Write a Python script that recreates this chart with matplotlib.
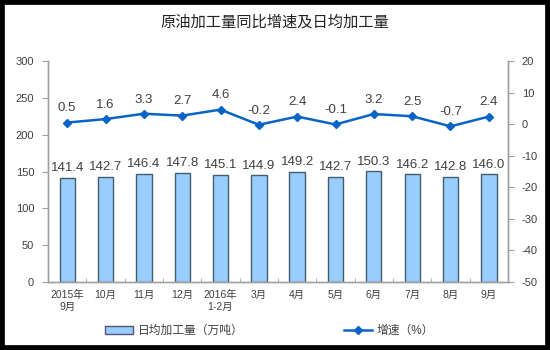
import matplotlib
matplotlib.use("Agg")
import matplotlib.pyplot as plt
from matplotlib.patches import Rectangle
from matplotlib.lines import Line2D
import numpy as np

plt.rcParams['font.family'] = ['Liberation Sans', 'Noto Sans CJK SC', 'DejaVu Sans']
plt.rcParams['axes.unicode_minus'] = False

# ---- data ------------------------------------------------------------
months = ["2015年\n9月", "10月", "11月", "12月", "2016年\n1-2月", "3月",
          "4月", "5月", "6月", "7月", "8月", "9月"]
daily_output = [141.4, 142.7, 146.4, 147.8, 145.1, 144.9,
                149.2, 142.7, 150.3, 146.2, 142.8, 146.0]
growth = [0.5, 1.6, 3.3, 2.7, 4.6, -0.2, 2.4, -0.1, 3.2, 2.5, -0.7, 2.4]

title = "原油加工量同比增速及日均加工量"
bar_label = "日均加工量（万吨）"
line_label = "增速（%）"

bar_color = "#99CCFF"
bar_edge = "#3F5F6F"
line_color = "#0A64C8"
spine_color = "#A0A0A0"
text_color = "#404040"

# ---- figure ----------------------------------------------------------
fig = plt.figure(figsize=(5.5, 3.5), dpi=100)
fig.patch.set_facecolor("white")
fig.patches.append(Rectangle((0, 0), 1, 1, transform=fig.transFigure,
                             fill=False, edgecolor="black", linewidth=7,
                             zorder=10))

ax = fig.add_axes([48 / 550, 1 - 282 / 350, 460 / 550, 221 / 350])
ax2 = ax.twinx()

x = np.arange(len(months))
ax.bar(x, daily_output, width=0.4, color=bar_color, edgecolor=bar_edge,
       linewidth=1.0, zorder=2)
for xi, v in zip(x, daily_output):
    ax.text(xi, v + 5, f"{v:.1f}", ha="center", va="bottom",
            fontsize=9.5, color=text_color)

ax.set_xlim(-0.5, len(months) - 0.5)
ax.set_ylim(0, 300)
ax.set_yticks(np.arange(0, 301, 50))
ax.set_xticks(x)
ax.set_xticklabels(months, fontsize=7.5, color=text_color)
ax.set_xticks(np.arange(-0.5, len(months), 1), minor=True)
ax.tick_params(axis="x", which="major", length=0, pad=6)
ax.tick_params(axis="x", which="minor", length=3, color=spine_color,
               direction="in")
ax.tick_params(axis="y", labelsize=8, colors=text_color, length=4,
               color=spine_color, pad=6)

ax2.plot(x, growth, color=line_color, linewidth=1.8, marker="D",
         markersize=4, zorder=3)
for xi, v in zip(x, growth):
    ax2.text(xi, v + 2.6, f"{v:.1f}", ha="center", va="bottom",
             fontsize=9.5, color=text_color)
ax2.set_ylim(-50, 20)
ax2.set_yticks(np.arange(-50, 21, 10))
ax2.tick_params(axis="y", labelsize=8, colors=text_color, length=4,
                color=spine_color, pad=6)

for a in (ax, ax2):
    a.spines["top"].set_visible(False)
    for s in ("left", "right", "bottom"):
        a.spines[s].set_color(spine_color)
        a.spines[s].set_linewidth(1.0)

fig.text(0.5, 1 - 22 / 350, title, ha="center", va="center",
         fontsize=11, color="#222222")

# ---- legend ----------------------------------------------------------
handles = [Rectangle((0, 0), 1, 1, facecolor=bar_color, edgecolor="#555577",
                     linewidth=1.0),
           Line2D([], [], color=line_color, linewidth=1.8, marker="D",
                  markersize=4)]
fig.legend(handles, [bar_label, line_label], loc="center",
           bbox_to_anchor=(0.49, 1 - 331 / 350), ncol=2, frameon=False,
           fontsize=8.5, columnspacing=8.5, handlelength=2.4,
           handletextpad=0.4, labelcolor=text_color)

fig.savefig("out.png", dpi=100, facecolor="white")
